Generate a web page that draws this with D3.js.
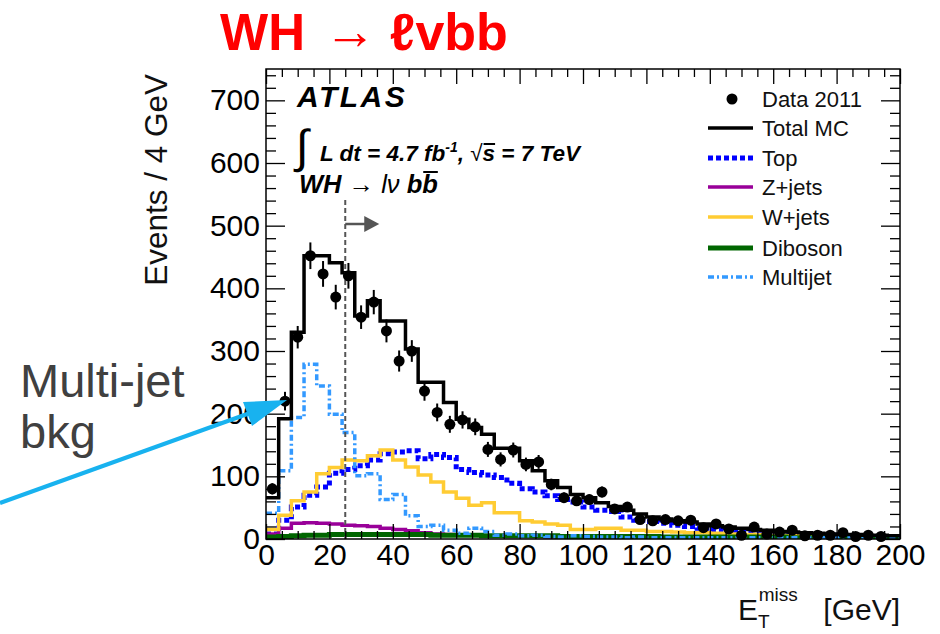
<!DOCTYPE html>
<html>
<head>
<meta charset="utf-8">
<script src="https://cdn.jsdelivr.net/npm/d3@7"></script>
<style>
  html, body { margin: 0; padding: 0; background: #fff; }
  svg { display: block; font-family: "Liberation Sans", Arial, sans-serif; }
</style>
</head>
<body>
<div id="chart"></div>
<script>
// 50 bins of 4 GeV, 0 - 200 GeV
const binWidth = 4;
const xTicks = [0, 20, 40, 60, 80, 100, 120, 140, 160, 180, 200];
const yTicks = [0, 100, 200, 300, 400, 500, 600, 700];

// Data 2011 (events per bin)
const dataCounts = [80, 220, 322, 452, 423, 386, 420, 354, 378, 332,
                    284, 300, 236, 202, 183, 190, 179, 143, 127, 142,
                    119, 123, 87, 66, 61, 63, 75, 48, 51, 31,
                    29, 31, 29, 30, 18, 24, 16, 6, 19, 8,
                    11, 14, 5, 6, 6, 10, 4, 6, 4, 0];

const totalMC = [66, 192, 330, 452, 452, 441, 425, 356, 380, 348,
                 348, 303, 250, 250, 218, 191, 178, 167, 145, 145,
                 125, 109, 93, 82, 71, 66, 58, 52, 46, 40,
                 35, 32, 29, 27, 24, 21, 19, 17, 15, 14,
                 12, 11, 10, 9, 8, 7, 7, 6, 6, 5];

const topBkg = [8, 30, 51, 70, 83, 105, 111, 117, 126, 136,
                139, 141, 128, 135, 130, 111, 106, 102, 98, 89,
                80, 75, 69, 63, 59, 51, 46, 44, 35, 30,
                28, 25, 22, 20, 17, 15, 14, 12, 11, 10,
                9, 8, 7, 6, 6, 5, 5, 4, 4, 3];

const zJets = [8, 17, 25, 26, 25, 24, 22, 21, 20, 17,
               15, 13, 10, 8, 7, 6, 6, 5, 5, 4,
               4, 4, 3, 3, 3, 3, 2, 2, 2, 2,
               2, 2, 2, 1, 1, 1, 1, 1, 1, 1,
               1, 1, 1, 1, 1, 1, 1, 1, 1, 1];

const wJets = [15, 38, 61, 75, 104, 114, 126, 125, 133, 142,
               126, 115, 102, 91, 75, 65, 54, 58, 42, 42,
               29, 27, 24, 22, 15, 15, 17, 17, 14, 14,
               12, 12, 11, 10, 10, 9, 8, 7, 7, 6,
               5, 5, 4, 4, 3, 3, 3, 2, 2, 2];

const diboson = [3, 4, 5, 6, 6, 7, 7, 7, 7, 7,
                 7, 7, 7, 6, 6, 6, 6, 5, 5, 5,
                 5, 5, 5, 4, 4, 4, 4, 4, 4, 4,
                 4, 3, 3, 3, 3, 3, 3, 3, 3, 3,
                 3, 2, 2, 2, 2, 2, 2, 2, 2, 2];

const multijet = [41, 109, 194, 279, 244, 199, 170, 101, 104, 63,
                  71, 37, 20, 22, 14, 9, 17, 12, 6, 8,
                  5, 6, 4, 3, 5, 4, 3, 3, 2, 3,
                  2, 2, 2, 2, 2, 2, 2, 2, 2, 2,
                  2, 2, 2, 2, 2, 2, 2, 2, 2, 2];

const cutValue = 25;

// Layout
const width = 940, height = 634;
const plot = { left: 266, right: 900, top: 69, bottom: 539 };

const svg = d3.select("#chart").append("svg")
    .attr("width", width)
    .attr("height", height);

const x = d3.scaleLinear().domain([0, 200]).range([plot.left, plot.right]);
const y = d3.scaleLinear().domain([0, 750]).range([plot.bottom, plot.top]);

svg.append("clipPath").attr("id", "plotClip")
    .append("rect")
    .attr("x", plot.left).attr("y", plot.top)
    .attr("width", plot.right - plot.left).attr("height", plot.bottom - plot.top);

// Histogram as step outline
function stepPoints(values) {
    const pts = [];
    values.forEach((v, i) => {
        pts.push([i * binWidth, v]);
        pts.push([(i + 1) * binWidth, v]);
    });
    return pts;
}
const stepLine = d3.line().x(d => x(d[0])).y(d => y(d[1]));

const series = [
    { name: "Top", values: topBkg, color: "#0000ff", width: 5, dash: "5,3" },
    { name: "Z+jets", values: zJets, color: "#990099", width: 3.5, dash: null },
    { name: "W+jets", values: wJets, color: "#ffcc33", width: 3.5, dash: null },
    { name: "Diboson", values: diboson, color: "#006600", width: 5, dash: null },
    { name: "Multijet", values: multijet, color: "#3399ff", width: 3.5, dash: "6,3,2,3" },
    { name: "Total MC", values: totalMC, color: "#000000", width: 3.5, dash: null }
];

const histG = svg.append("g").attr("clip-path", "url(#plotClip)");
series.forEach(s => {
    histG.append("path")
        .datum(stepPoints(s.values))
        .attr("d", stepLine)
        .attr("fill", "none")
        .attr("stroke", s.color)
        .attr("stroke-width", s.width)
        .attr("stroke-dasharray", s.dash)
        .attr("stroke-linejoin", "miter");
});

// Cut line + arrow
svg.append("line")
    .attr("x1", x(cutValue)).attr("x2", x(cutValue))
    .attr("y1", 200).attr("y2", plot.bottom)
    .attr("stroke", "#555").attr("stroke-width", 2)
    .attr("stroke-dasharray", "5,3");
svg.append("line")
    .attr("x1", x(cutValue)).attr("x2", x(cutValue) + 22)
    .attr("y1", 224).attr("y2", 224)
    .attr("stroke", "#555").attr("stroke-width", 2.5);
svg.append("path")
    .attr("d", `M${x(cutValue) + 19},216 L${x(cutValue) + 34},224 L${x(cutValue) + 19},232 Z`)
    .attr("fill", "#555");

// Data points with sqrt(N) error bars
const dataPts = dataCounts.map((v, i) => ({ x: (i + 0.5) * binWidth, v })).filter(d => d.v > 0);
const dataG = svg.append("g");
dataG.selectAll("line.err")
    .data(dataPts)
    .enter().append("line")
    .attr("class", "err")
    .attr("x1", d => x(d.x)).attr("x2", d => x(d.x))
    .attr("y1", d => y(d.v + Math.sqrt(d.v)))
    .attr("y2", d => y(Math.max(0, d.v - Math.sqrt(d.v))))
    .attr("stroke", "#000").attr("stroke-width", 2);
dataG.selectAll("circle")
    .data(dataPts)
    .enter().append("circle")
    .attr("cx", d => x(d.x))
    .attr("cy", d => y(d.v))
    .attr("r", 5.5)
    .attr("fill", "#000");

// Axes (ROOT style: ticks inward on all four sides)
const xMinor = d3.range(0, 201, 5).filter(v => v % 20 !== 0);
const yMinor = d3.range(0, 751, 20).filter(v => v % 100 !== 0);

function styleAxis(g) {
    g.select(".domain").remove();
    g.selectAll(".tick line").attr("stroke", "#000").attr("stroke-width", 1.3);
    g.selectAll(".tick text")
        .attr("fill", "#000")
        .style("font-size", "30px")
        .style("font-family", "'Liberation Sans', Arial, sans-serif");
}

svg.append("g")
    .attr("transform", `translate(0,${plot.bottom})`)
    .call(d3.axisBottom(x).tickValues(xTicks).tickSize(-15).tickPadding(5).tickFormat(d3.format("d")))
    .call(styleAxis);
svg.append("g")
    .attr("transform", `translate(0,${plot.bottom})`)
    .call(d3.axisBottom(x).tickValues(xMinor).tickSize(-8).tickFormat(""))
    .call(styleAxis);
svg.append("g")
    .attr("transform", `translate(0,${plot.top})`)
    .call(d3.axisTop(x).tickValues(xTicks).tickSize(-15).tickFormat(""))
    .call(styleAxis);
svg.append("g")
    .attr("transform", `translate(0,${plot.top})`)
    .call(d3.axisTop(x).tickValues(xMinor).tickSize(-8).tickFormat(""))
    .call(styleAxis);

svg.append("g")
    .attr("transform", `translate(${plot.left},0)`)
    .call(d3.axisLeft(y).tickValues(yTicks).tickSize(-19).tickPadding(6).tickFormat(d3.format("d")))
    .call(styleAxis);
svg.append("g")
    .attr("transform", `translate(${plot.left},0)`)
    .call(d3.axisLeft(y).tickValues(yMinor).tickSize(-10).tickFormat(""))
    .call(styleAxis);
svg.append("g")
    .attr("transform", `translate(${plot.right},0)`)
    .call(d3.axisRight(y).tickValues(yTicks).tickSize(-19).tickFormat(""))
    .call(styleAxis);
svg.append("g")
    .attr("transform", `translate(${plot.right},0)`)
    .call(d3.axisRight(y).tickValues(yMinor).tickSize(-10).tickFormat(""))
    .call(styleAxis);

// Frame
svg.append("rect")
    .attr("x", plot.left).attr("y", plot.top)
    .attr("width", plot.right - plot.left).attr("height", plot.bottom - plot.top)
    .attr("fill", "none").attr("stroke", "#000").attr("stroke-width", 1.5);

// Axis titles
svg.append("text")
    .attr("transform", "translate(167,74) rotate(-90)")
    .attr("text-anchor", "end")
    .style("font-size", "31.5px")
    .attr("fill", "#111")
    .text("Events / 4 GeV");

const xTitle = svg.append("text")
    .attr("x", 738).attr("y", 620)
    .style("font-size", "30px")
    .attr("fill", "#111");
xTitle.append("tspan").text("E");
xTitle.append("tspan").attr("dy", 8).style("font-size", "19px").text("T");
xTitle.append("tspan").attr("dx", -11).attr("dy", -27).style("font-size", "19px").text("miss");
svg.append("text")
    .attr("x", 900).attr("y", 620)
    .attr("text-anchor", "end")
    .style("font-size", "30px")
    .attr("fill", "#111")
    .text("[GeV]");

// ATLAS label block
svg.append("text")
    .attr("x", 297).attr("y", 107)
    .style("font-size", "30px").style("font-weight", "bold").style("font-style", "italic")
    .style("letter-spacing", "2.5px")
    .text("ATLAS");

svg.append("text")
    .attr("x", 296).attr("y", 162)
    .style("font-size", "46px").style("font-style", "italic")
    .text("\u222B");

function overline(textSel, charIndex, lift) {
    const node = textSel.node();
    const box = node.getExtentOfChar(charIndex);
    svg.append("line")
        .attr("x1", box.x + 1).attr("x2", box.x + box.width)
        .attr("y1", box.y + lift).attr("y2", box.y + lift)
        .attr("stroke", "#000").attr("stroke-width", 2);
}

const lumi = svg.append("text")
    .attr("x", 320).attr("y", 161)
    .style("font-size", "22.5px").style("font-weight", "bold").style("font-style", "italic");
lumi.append("tspan").text("L dt = 4.7 fb");
lumi.append("tspan").attr("dy", -9).style("font-size", "14px").text("-1");
lumi.append("tspan").attr("dy", 9).text(", ");
lumi.append("tspan").style("font-weight", "normal").style("font-style", "normal").text("\u221A");
lumi.append("tspan").text("s = 7 TeV");
overline(lumi, 18, 3);

const proc = svg.append("text")
    .attr("x", 299).attr("y", 193)
    .style("font-size", "25.5px").style("font-weight", "bold").style("font-style", "italic");
proc.append("tspan").text("WH ");
proc.append("tspan").style("font-weight", "normal").style("font-style", "normal").text("\u2192");
proc.append("tspan").style("font-weight", "normal").text(" l\u03BD ");
proc.append("tspan").text("bb");
overline(proc, 9, 2);

// Legend
const legendNames = ["Data 2011", "Total MC", "Top", "Z+jets", "W+jets", "Diboson", "Multijet"];
const legendY = [99, 128, 158, 187, 217, 248, 277];
const legendStyle = {
    "Total MC": series[5], "Top": series[0], "Z+jets": series[1],
    "W+jets": series[2], "Diboson": series[3], "Multijet": series[4]
};
const legend = svg.append("g");
legendNames.forEach((name, i) => {
    const ly = legendY[i];
    if (name === "Data 2011") {
        legend.append("circle").attr("cx", 732).attr("cy", ly).attr("r", 5.5).attr("fill", "#000");
    } else {
        const s = legendStyle[name];
        legend.append("line")
            .attr("x1", 708).attr("x2", 753).attr("y1", ly).attr("y2", ly)
            .attr("stroke", s.color).attr("stroke-width", s.width)
            .attr("stroke-dasharray", s.dash);
    }
    legend.append("text")
        .attr("x", 762).attr("y", ly + 8)
        .style("font-size", "22px")
        .attr("fill", "#111")
        .text(name);
});

// Red title
svg.append("text").attr("x", 220).attr("y", 50)
    .style("font-size", "51px").style("font-weight", "bold").attr("fill", "#ff0000")
    .text("WH");
svg.append("text").attr("x", 324).attr("y", 49)
    .style("font-size", "52px").attr("fill", "#ff0000")
    .text("\u2192");
svg.append("text").attr("x", 390).attr("y", 50)
    .style("font-size", "52px").style("font-weight", "bold").attr("fill", "#ff0000")
    .text("\u2113vbb");

// Annotation
svg.append("text").attr("x", 20).attr("y", 397)
    .style("font-size", "47px").attr("fill", "#404040").text("Multi-jet");
svg.append("text").attr("x", 20).attr("y", 448)
    .style("font-size", "47px").attr("fill", "#404040").text("bkg");

svg.append("line")
    .attr("x1", 0).attr("y1", 503).attr("x2", 250).attr("y2", 413)
    .attr("stroke", "#18b2ef").attr("stroke-width", 4);
svg.append("path")
    .attr("d", "M287,400 L243,402 L252,426 Z")
    .attr("fill", "#18b2ef");
</script>
</body>
</html>
